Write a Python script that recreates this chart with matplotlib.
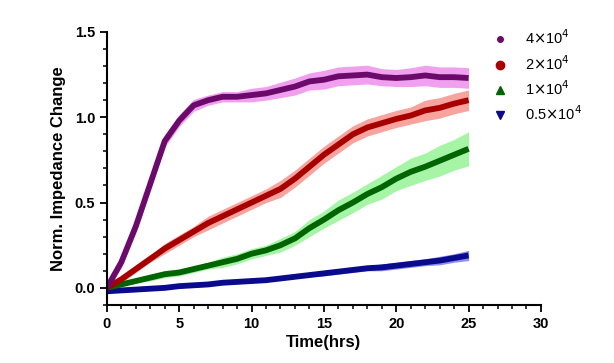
import numpy as np
import matplotlib
matplotlib.use("Agg")
import matplotlib.pyplot as plt
from matplotlib.lines import Line2D
from matplotlib.ticker import MultipleLocator, FormatStrFormatter

plt.rcParams["font.family"] = ["Liberation Sans", "DejaVu Sans"]

# time in hours (readings taken every hour off the picture)
time_hrs = np.arange(0, 26)

# mean normalised impedance change for each seeding density
cells_4e4 = [0.00, 0.15, 0.36, 0.61, 0.86, 0.98, 1.07, 1.10, 1.12, 1.12, 1.13,
             1.14, 1.16, 1.18, 1.21, 1.22, 1.24, 1.245, 1.25, 1.235, 1.23,
             1.235, 1.245, 1.235, 1.235, 1.23]
cells_2e4 = [0.00, 0.05, 0.11, 0.17, 0.23, 0.28, 0.33, 0.38, 0.42, 0.46, 0.50,
             0.54, 0.58, 0.64, 0.71, 0.78, 0.84, 0.90, 0.94, 0.965, 0.99,
             1.01, 1.04, 1.055, 1.08, 1.10]
cells_1e4 = [0.00, 0.02, 0.04, 0.06, 0.08, 0.09, 0.11, 0.13, 0.15, 0.17, 0.20,
             0.22, 0.25, 0.29, 0.35, 0.40, 0.455, 0.50, 0.55, 0.59, 0.64,
             0.68, 0.71, 0.745, 0.78, 0.815]
cells_05e4 = [-0.02, -0.015, -0.01, -0.005, 0.00, 0.01, 0.015, 0.02, 0.03, 0.035, 0.04,
              0.045, 0.055, 0.065, 0.075, 0.085, 0.095, 0.105, 0.115, 0.12, 0.13,
              0.14, 0.15, 0.16, 0.175, 0.19]

# error band half widths
sd_4e4 = [0.02, 0.03, 0.035, 0.035, 0.035, 0.035, 0.035, 0.03, 0.03, 0.03, 0.04,
          0.04, 0.045, 0.05, 0.05, 0.055, 0.055, 0.055, 0.055, 0.05, 0.05,
          0.055, 0.06, 0.06, 0.06, 0.06]
sd_2e4 = [0.01, 0.02, 0.02, 0.02, 0.03, 0.03, 0.03, 0.04, 0.04, 0.04, 0.04,
          0.04, 0.05, 0.05, 0.05, 0.05, 0.05, 0.05, 0.05, 0.05, 0.05,
          0.05, 0.06, 0.06, 0.06, 0.06]
sd_1e4 = [0.01, 0.01, 0.01, 0.02, 0.02, 0.02, 0.02, 0.02, 0.03, 0.03, 0.03,
          0.03, 0.04, 0.04, 0.05, 0.05, 0.06, 0.06, 0.06, 0.07, 0.07,
          0.08, 0.08, 0.09, 0.09, 0.10]
sd_05e4 = [0.01, 0.01, 0.01, 0.01, 0.01, 0.01, 0.01, 0.01, 0.01, 0.01, 0.01,
           0.01, 0.01, 0.01, 0.01, 0.015, 0.015, 0.015, 0.015, 0.02, 0.02,
           0.02, 0.02, 0.025, 0.025, 0.03]

labels = [r"4$\times$10$^{4}$", r"2$\times$10$^{4}$", r"1$\times$10$^{4}$", r"0.5$\times$10$^{4}$"]
means = [cells_4e4, cells_2e4, cells_1e4, cells_05e4]
sds = [sd_4e4, sd_2e4, sd_1e4, sd_05e4]
line_colors = ["#6b0a6b", "#a80000", "#006400", "#0a0a8c"]
band_colors = ["#f0a0ee", "#f7a49e", "#a6f5a6", "#8f8ff5"]
markers = ["o", "o", "^", "v"]
marker_sizes = [4, 6, 6, 6]

fig = plt.figure(figsize=(6.14, 3.63), dpi=100)
ax = fig.add_axes([0.174, 0.160, 0.707, 0.752])

# bands first, then the mean lines on top
for m, s, bc in reversed(list(zip(means, sds, band_colors))):
    m = np.array(m)
    s = np.array(s)
    ax.fill_between(time_hrs, m - s, m + s, color=bc, linewidth=0)
for m, lc in reversed(list(zip(means, line_colors))):
    ax.plot(time_hrs, m, color=lc, linewidth=4.2, solid_capstyle="butt")

ax.set_xlim(0, 30)
ax.set_ylim(-0.1, 1.5)
ax.xaxis.set_major_locator(MultipleLocator(5))
ax.xaxis.set_minor_locator(MultipleLocator(1))
ax.yaxis.set_major_locator(MultipleLocator(0.5))
ax.yaxis.set_minor_locator(MultipleLocator(0.1))
ax.yaxis.set_major_formatter(FormatStrFormatter("%.1f"))

for side in ["top", "right"]:
    ax.spines[side].set_visible(False)
for side in ["left", "bottom"]:
    ax.spines[side].set_linewidth(1.5)
ax.tick_params(which="major", direction="out", length=5, width=1.3, labelsize=10.5)
ax.tick_params(which="minor", direction="out", length=3, width=1.1)
for lab in ax.get_xticklabels() + ax.get_yticklabels():
    lab.set_fontweight("bold")

ax.set_xlabel("Time(hrs)", fontsize=12, fontweight="bold", labelpad=3)
ax.set_ylabel("Norm. Impedance Change", fontsize=12, fontweight="bold", labelpad=6)

handles = [Line2D([], [], linestyle="none", marker=mk, markersize=ms, color=lc)
           for mk, ms, lc in zip(markers, marker_sizes, line_colors)]
ax.legend(handles, labels, loc="upper left", bbox_to_anchor=(0.855, 1.06),
          frameon=False, fontsize=10.5, handletextpad=1.1, labelspacing=0.45,
          handlelength=1.2)

fig.savefig("out.png", dpi=100)
